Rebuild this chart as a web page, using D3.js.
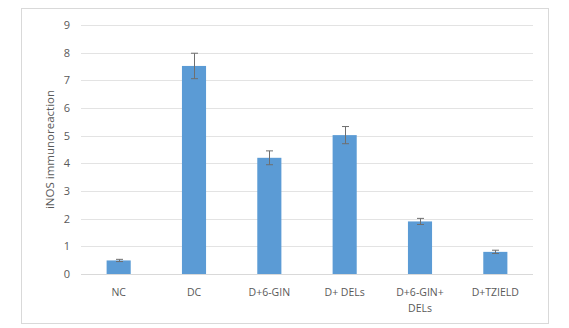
<!DOCTYPE html>
<html>
<head>
<meta charset="utf-8">
<script src="https://cdn.jsdelivr.net/npm/d3@7"></script>
<style>
  html, body { margin: 0; padding: 0; background: #fff; }
  svg { display: block; }
  text { font-family: "Open Sans", "Liberation Sans", sans-serif; fill: #595959; }
</style>
</head>
<body>
<svg id="chart" width="569" height="328"></svg>
<script>
// Group labels (line breaks with "\n")
const categories = ["NC", "DC", "D+6-GIN", "D+ DELs", "D+6-GIN+\nDELs", "D+TZIELD"];
// Mean iNOS immunoreaction score per group
const means = [0.49, 7.52, 4.2, 5.02, 1.9, 0.8];
// Error (± SD) per group
const errors = [0.04, 0.46, 0.25, 0.31, 0.11, 0.06];
const yTicks = [0, 1, 2, 3, 4, 5, 6, 7, 8, 9];
const yLabel = "iNOS immunoreaction";

const svg = d3.select("#chart");
const W = 569, H = 328;
const margin = { left: 81, right: 36, top: 25, bottom: 54 };

// chart frame
svg.append("rect")
  .attr("x", 21.5).attr("y", 8.5)
  .attr("width", 527).attr("height", 315)
  .attr("fill", "#fff")
  .attr("stroke", "#d9d9d9")
  .attr("stroke-width", 1);

const x = d3.scaleBand()
  .domain(categories)
  .range([margin.left, W - margin.right])
  .paddingInner(0.68)
  .paddingOuter(0.34);

const y = d3.scaleLinear()
  .domain([0, 9])
  .range([H - margin.bottom, margin.top]);

// horizontal gridlines
svg.append("g")
  .selectAll("line")
  .data(yTicks)
  .join("line")
  .attr("x1", margin.left).attr("x2", W - margin.right)
  .attr("y1", d => Math.round(y(d)) + 0.5).attr("y2", d => Math.round(y(d)) + 0.5)
  .attr("stroke", "#e3e3e3")
  .attr("stroke-width", 1);

// y axis labels
const yAxis = d3.axisLeft(y).tickValues(yTicks).tickSize(0).tickPadding(0);
const gy = svg.append("g")
  .attr("transform", `translate(${margin.left - 11},0)`)
  .call(yAxis);
gy.select(".domain").remove();
gy.selectAll("text")
  .attr("font-size", 11)
  .attr("fill", "#595959")
  .attr("font-family", "'Open Sans', sans-serif");

// bars
svg.append("g")
  .selectAll("rect")
  .data(categories)
  .join("rect")
  .attr("x", d => x(d))
  .attr("width", x.bandwidth())
  .attr("y", (d, i) => y(means[i]))
  .attr("height", (d, i) => y(0) - y(means[i]))
  .attr("fill", "#5b9bd5");

// error bars
const eg = svg.append("g").attr("stroke", "#6f6f6f").attr("stroke-width", 1);
categories.forEach((c, i) => {
  const cx = Math.round(x(c) + x.bandwidth() / 2) + 0.5;
  const top = y(means[i] + errors[i]);
  const bot = y(means[i] - errors[i]);
  eg.append("line").attr("x1", cx).attr("x2", cx).attr("y1", top).attr("y2", bot);
  eg.append("line").attr("x1", cx - 3.5).attr("x2", cx + 3.5).attr("y1", top).attr("y2", top);
  eg.append("line").attr("x1", cx - 3.5).attr("x2", cx + 3.5).attr("y1", bot).attr("y2", bot);
});

// baseline
svg.append("line")
  .attr("x1", margin.left).attr("x2", W - margin.right)
  .attr("y1", Math.round(y(0)) + 0.5).attr("y2", Math.round(y(0)) + 0.5)
  .attr("stroke", "#d9d9d9");

// x axis labels
const xl = svg.append("g");
categories.forEach(c => {
  const t = xl.append("text")
    .attr("x", x(c) + x.bandwidth() / 2)
    .attr("y", y(0) + 22)
    .attr("text-anchor", "middle")
    .attr("font-size", 10.5);
  c.split("\n").forEach((line, j) => {
    t.append("tspan")
      .attr("x", x(c) + x.bandwidth() / 2)
      .attr("dy", j === 0 ? 0 : 16)
      .text(line);
  });
});

// y axis title
svg.append("text")
  .attr("transform", `translate(${50},${(y(0) + y(9)) / 2}) rotate(-90)`)
  .attr("text-anchor", "middle")
  .attr("dy", "0.35em")
  .attr("font-size", 11.5)
  .text(yLabel);
</script>
</body>
</html>
